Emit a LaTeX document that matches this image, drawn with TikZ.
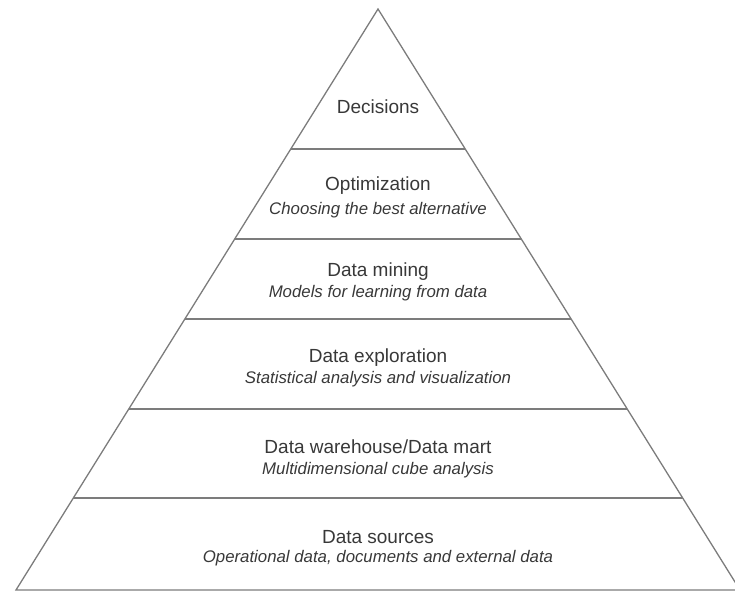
\documentclass[tikz,border=0pt]{standalone}
\usepackage{fontspec}
\setmainfont{Liberation Sans}
\usetikzlibrary{calc}
\definecolor{linegray}{HTML}{7C7C7C}
\definecolor{textgray}{HTML}{383838}
\begin{document}
\begin{tikzpicture}[x=1pt,y=-1pt,
  edge/.style={draw=linegray,line width=1.3pt},
  tiertitle/.style={anchor=base,inner sep=0pt,text=textgray,font=\fontsize{19}{22}\selectfont},
  tiersub/.style={anchor=base,inner sep=0pt,text=textgray,font=\fontsize{16.8}{19}\selectfont\itshape}]
\useasboundingbox (0,0) rectangle (735,592);
\coordinate (apex) at (378,9);
\coordinate (bl) at (16,590);
\coordinate (br) at (740,590);
\draw[edge,line join=miter] (bl) -- (apex) -- (br) -- cycle;
\foreach \t/\n in {0.2410/a,0.3959/b,0.5336/c,0.6885/d,0.8417/e}{
  \draw[edge] ($(apex)!\t!(bl)$) coordinate (l\n) -- ($(apex)!\t!(br)$) coordinate (r\n);
}
\node[tiertitle] (dec) at (378,113) {Decisions};
\node[tiertitle] (opt) at (378,190) {Optimization};
\node[tiersub] (optsub) at (378,214) {Choosing the best alternative};
\node[tiertitle] (dm) at (378,276) {Data mining};
\node[tiersub] (dmsub) at (378,297) {Models for learning from data};
\node[tiertitle] (de) at (378,362) {Data exploration};
\node[tiersub] (desub) at (378,383) {Statistical analysis and visualization};
\node[tiertitle] (dw) at (378,453) {Data warehouse/Data mart};
\node[tiersub] (dwsub) at (378,474) {Multidimensional cube analysis};
\node[tiertitle] (ds) at (378,543) {Data sources};
\node[tiersub] (dssub) at (378,562) {Operational data, documents and external data};
\end{tikzpicture}
\end{document}
